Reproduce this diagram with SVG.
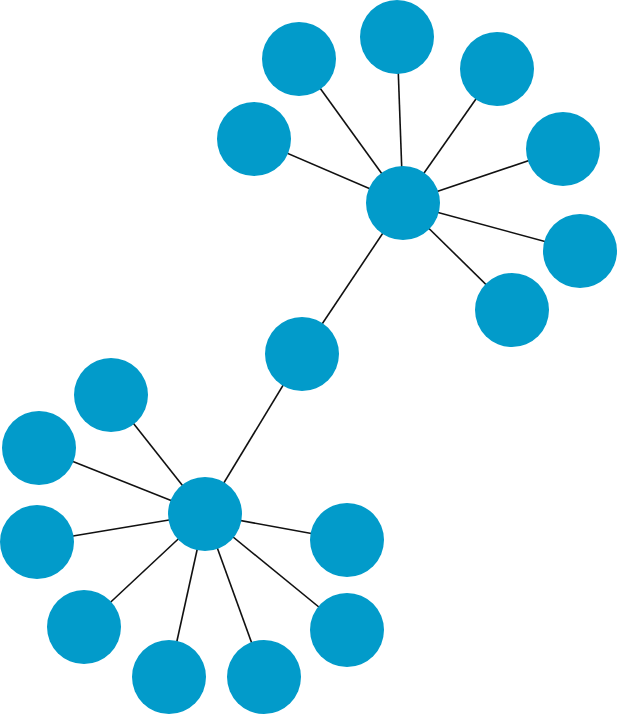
<svg xmlns="http://www.w3.org/2000/svg" width="618" height="714" viewBox="0 0 618 714">
<style>
.n{fill:#029BCA}
.e line{stroke:#111;stroke-width:1.6}
</style>
<rect width="618" height="714" fill="#fff"/>
<g id="edges" class="e">
<line x1="403" y1="203" x2="299" y2="59"/>
<line x1="403" y1="203" x2="397" y2="37"/>
<line x1="403" y1="203" x2="497" y2="69"/>
<line x1="403" y1="203" x2="254" y2="139"/>
<line x1="403" y1="203" x2="563" y2="149"/>
<line x1="403" y1="203" x2="580" y2="251"/>
<line x1="403" y1="203" x2="512" y2="310"/>
<line x1="403" y1="203" x2="302" y2="354"/>
<line x1="302" y1="354" x2="205" y2="514"/>
<line x1="205" y1="514" x2="111" y2="395"/>
<line x1="205" y1="514" x2="39" y2="448"/>
<line x1="205" y1="514" x2="37" y2="542"/>
<line x1="205" y1="514" x2="84" y2="627"/>
<line x1="205" y1="514" x2="169" y2="677"/>
<line x1="205" y1="514" x2="264" y2="677"/>
<line x1="205" y1="514" x2="347" y2="630"/>
<line x1="205" y1="514" x2="347" y2="540"/>
</g>
<g id="n_hub1"><circle class="n" cx="403" cy="203" r="37"/></g>
<g id="n_t1"><circle class="n" cx="299" cy="59" r="37"/></g>
<g id="n_t2"><circle class="n" cx="397" cy="37" r="37"/></g>
<g id="n_t3"><circle class="n" cx="497" cy="69" r="37"/></g>
<g id="n_t4"><circle class="n" cx="254" cy="139" r="37"/></g>
<g id="n_t5"><circle class="n" cx="563" cy="149" r="37"/></g>
<g id="n_t6"><circle class="n" cx="580" cy="251" r="37"/></g>
<g id="n_t7"><circle class="n" cx="512" cy="310" r="37"/></g>
<g id="n_mid"><circle class="n" cx="302" cy="354" r="37"/></g>
<g id="n_hub2"><circle class="n" cx="205" cy="514" r="37"/></g>
<g id="n_b1"><circle class="n" cx="111" cy="395" r="37"/></g>
<g id="n_b2"><circle class="n" cx="39" cy="448" r="37"/></g>
<g id="n_b3"><circle class="n" cx="37" cy="542" r="37"/></g>
<g id="n_b4"><circle class="n" cx="84" cy="627" r="37"/></g>
<g id="n_b5"><circle class="n" cx="169" cy="677" r="37"/></g>
<g id="n_b6"><circle class="n" cx="264" cy="677" r="37"/></g>
<g id="n_b7"><circle class="n" cx="347" cy="630" r="37"/></g>
<g id="n_b8"><circle class="n" cx="347" cy="540" r="37"/></g>
</svg>
